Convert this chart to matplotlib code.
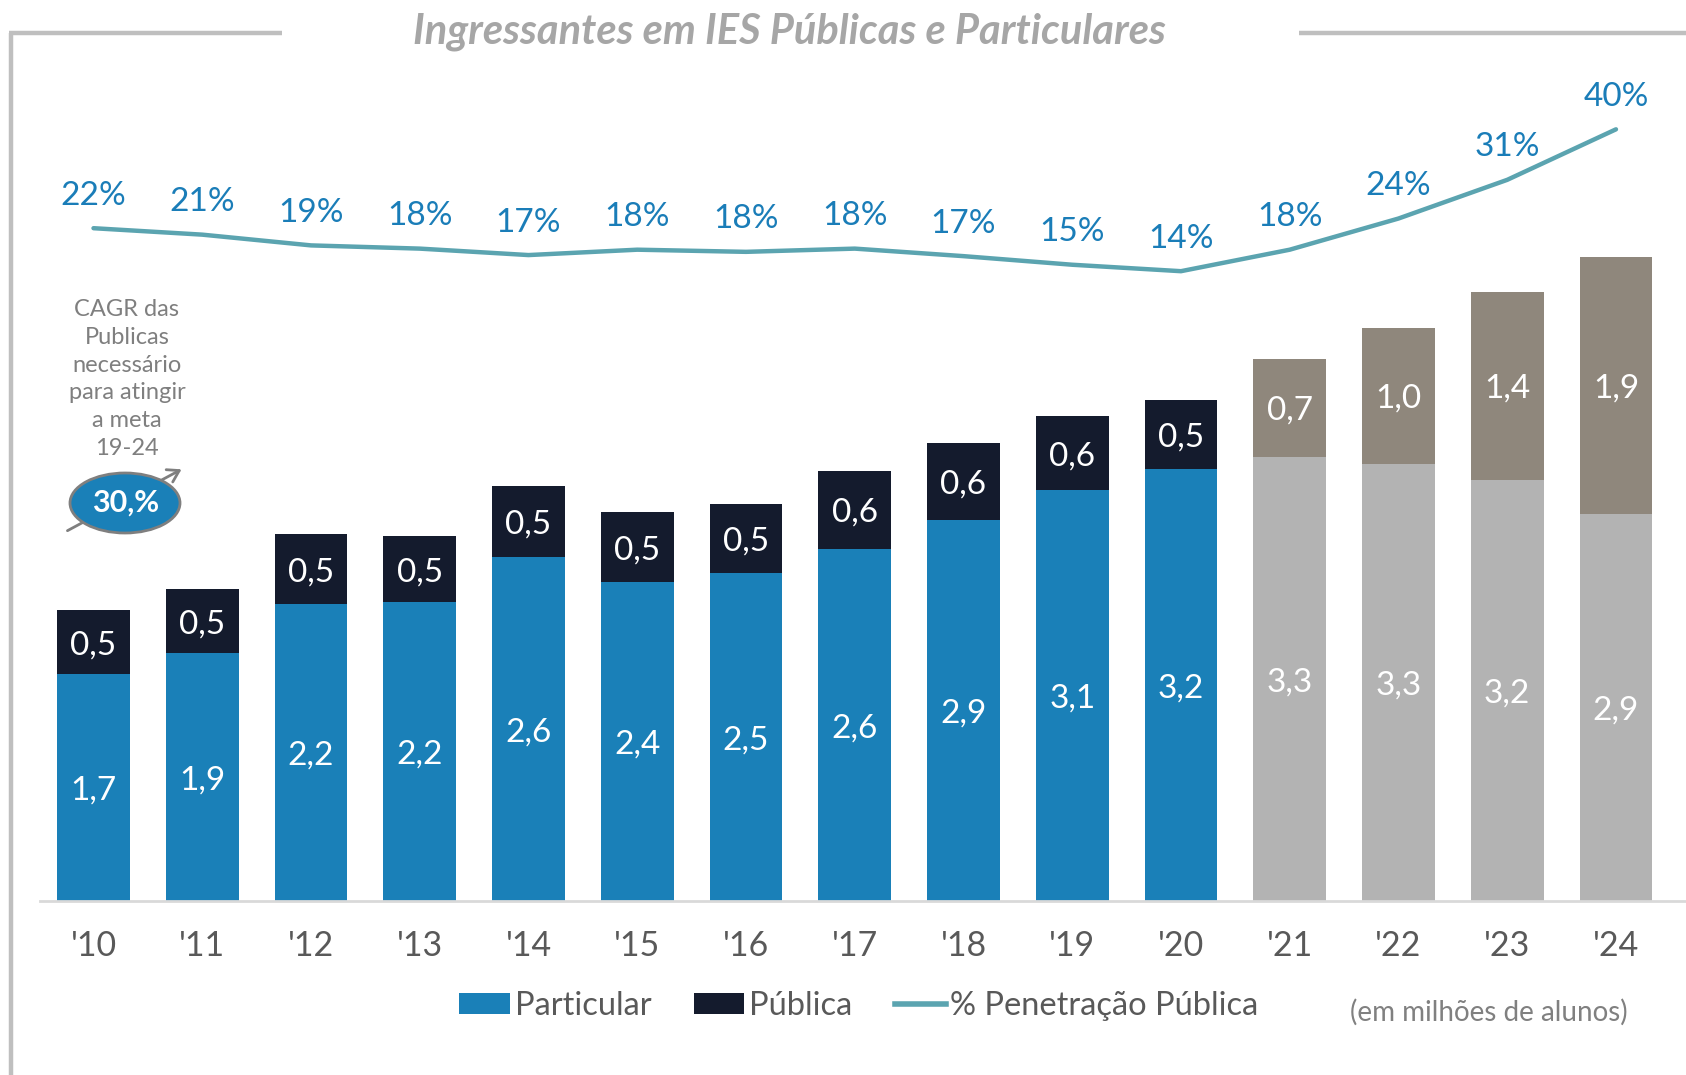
import matplotlib
matplotlib.use("Agg")
import matplotlib.pyplot as plt
from matplotlib.patches import Patch, Ellipse, FancyArrowPatch
from matplotlib.lines import Line2D

plt.rcParams['font.family'] = ['Lato', 'DejaVu Sans']

years = ["'10", "'11", "'12", "'13", "'14", "'15", "'16", "'17", "'18", "'19",
         "'20", "'21", "'22", "'23", "'24"]
particular = [1.70, 1.86, 2.23, 2.24, 2.58, 2.39, 2.46, 2.64, 2.86, 3.08,
              3.24, 3.33, 3.28, 3.16, 2.90]
publica = [0.48, 0.48, 0.52, 0.50, 0.53, 0.53, 0.52, 0.59, 0.58, 0.56,
           0.52, 0.74, 1.02, 1.41, 1.93]
penetracao = [22.0, 20.8, 18.8, 18.2, 17.0, 18.0, 17.6, 18.2, 16.8, 15.2,
              14.0, 18.0, 23.8, 31.0, 40.4]
n_actual = 11  # '10..'20 actual, '21..'24 projected

C_PART = '#1A80B8'
C_PUB = '#141B2D'
C_PART_F = '#B3B3B3'
C_PUB_F = '#8F877C'
C_LINE = '#5BA4B0'
C_PCT = '#1A7DB8'
C_TXT = '#595959'

W, H = 1686, 1075
fig = plt.figure(figsize=(W / 100, H / 100), dpi=100)
fig.patch.set_facecolor('white')

ax = fig.add_axes([40 / W, 1 - 901 / H, 1 - 40 / W, (901 - 60) / H])
x = list(range(len(years)))
pc = [C_PART if i < n_actual else C_PART_F for i in x]
uc = [C_PUB if i < n_actual else C_PUB_F for i in x]
ax.bar(x, particular, width=0.67, color=pc, edgecolor='none')
ax.bar(x, publica, width=0.67, bottom=particular, color=uc, edgecolor='none')

fmt = lambda v: f"{v:.1f}".replace('.', ',')
for i in x:
    ax.text(i, particular[i] / 2, fmt(particular[i]), ha='center',
            va='center_baseline', color='white', fontsize=24)
    ax.text(i, particular[i] + publica[i] / 2, fmt(publica[i]), ha='center',
            va='center_baseline', color='white', fontsize=24)

ax.set_xlim(-0.492, 14.644)
ax.set_ylim(0, 6.31)
ax.set_xticks(x)
ax.set_xticklabels(years, fontsize=24.5, color=C_TXT)
ax.tick_params(axis='x', length=0, pad=21)
ax.set_yticks([])
for s in ['top', 'right', 'left']:
    ax.spines[s].set_visible(False)
ax.spines['bottom'].set_color('#D9D9D9')
ax.spines['bottom'].set_linewidth(2)
ax.patch.set_alpha(0)

ax2 = ax.twinx()
ax2.plot(x, penetracao, color=C_LINE, lw=3.2, solid_capstyle='round')
ax2.set_ylim(-103.2, 53.3)
ax2.axis('off')
for i in x:
    ax2.annotate(f"{round(penetracao[i])}%", (i, penetracao[i]),
                 xytext=(0, 25.5), textcoords='offset points', ha='center',
                 va='center_baseline', color=C_PCT, fontsize=24)

# frame lines
fr = dict(color='#BFBFBF', lw=3.2, solid_capstyle='butt')
fig.add_artist(Line2D([11 / W, 11 / W], [0, 1 - 33 / H], transform=fig.transFigure, **fr))
fig.add_artist(Line2D([9 / W, 282 / W], [1 - 33 / H, 1 - 33 / H], transform=fig.transFigure, **fr))
fig.add_artist(Line2D([1299 / W, 1], [1 - 33 / H, 1 - 33 / H], transform=fig.transFigure, **fr))

fig.text(789 / W, 1 - 32 / H, 'Ingressantes em IES Públicas e Particulares',
         ha='center', va='center', fontsize=30, fontweight='bold',
         fontstyle='italic', color='#A6A6A6')

# annotation
fig.text(127 / W, 1 - 379 / H,
         'CAGR das\nPublicas\nnecessário\npara atingir\na meta\n19-24',
         ha='center', va='center', fontsize=17, color='#7F7F7F', linespacing=1.4)
arr = FancyArrowPatch((65 / W, 1 - 532 / H), (184 / W, 1 - 468 / H),
                      transform=fig.transFigure, arrowstyle='->,head_length=8,head_width=5',
                      color='#7F7F7F', lw=2)
fig.add_artist(arr)
ell = Ellipse((125 / W, 1 - 503 / H), 110 / W, 60 / H, transform=fig.transFigure,
              facecolor=C_PART, edgecolor='#7F7F7F', lw=2)
fig.add_artist(ell)
fig.text(126 / W, 1 - 503 / H, '30,%', ha='center', va='center', fontsize=22,
         fontweight='bold', color='white')

handles = [Patch(facecolor=C_PART, label='Particular'),
           Patch(facecolor=C_PUB, label='Pública'),
           Line2D([], [], color=C_LINE, lw=4, label='% Penetração Pública')]
leg = fig.legend(handles=handles, loc='center', bbox_to_anchor=(859 / W, 1 - 1006 / H),
                 ncol=3, frameon=False, fontsize=23.5, handlelength=1.55,
                 handleheight=0.6, handletextpad=0.15, columnspacing=1.3)
for t in leg.get_texts():
    t.set_color(C_TXT)

fig.text(1489 / W, 1 - 1012 / H, '(em milhões de alunos)', ha='center', va='center',
         fontsize=20, color='#808080')

fig.savefig('out.png', dpi=100, facecolor='white')
